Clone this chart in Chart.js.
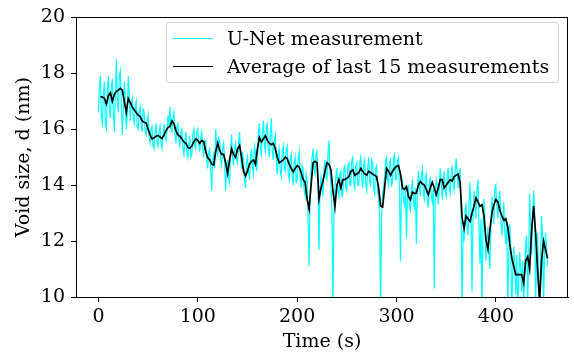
<!DOCTYPE html>
<html><head><meta charset="utf-8">
<script src="https://cdn.jsdelivr.net/npm/chart.js@4.4.1/dist/chart.umd.min.js"></script>
<style>
html,body{margin:0;padding:0;background:#fff;}
#wrap{position:relative;width:574px;height:353px;}
#legend{position:absolute;left:166px;top:22px;width:393px;height:61px;box-sizing:border-box;border:1px solid #d4d4d4;border-radius:3px;background:rgba(255,255,255,0.8);font-family:'DejaVu Serif',serif;font-size:19px;color:#000;}
.row{position:absolute;left:0;height:22px;display:flex;align-items:center;white-space:nowrap;}
.sw{display:inline-block;width:40px;height:0;margin-left:6px;margin-right:14px;}
</style></head>
<body><div id="wrap"><canvas id="c" width="574" height="353"></canvas>
<div id="legend"></div></div>
<script>
// ---- data ----
// U-Net measurement, one value per second from t = 0 s
const unetStart = 0, unetStep = 1;
const unet = [
16.6,17.6,17.9,16.4,16.2,17.3,17.7,16.1,16.0,17.4,17.9,16.8,16.4,17.5,17.8,16.6,15.9,17.2,18.5,17.0,
16.6,17.9,18.1,16.9,15.8,16.7,17.7,17.2,16.0,16.5,17.9,17.3,16.3,16.9,17.1,16.4,16.2,16.8,17.0,16.1,
16.0,16.6,16.8,16.2,15.9,16.7,16.6,15.9,15.8,16.3,16.5,15.7,15.5,16.0,16.1,15.4,15.3,15.9,16.2,15.5,
15.4,15.9,16.1,15.5,15.3,15.8,16.2,15.7,15.6,16.0,16.5,16.1,16.8,16.0,15.9,16.4,16.6,15.8,15.5,16.1,
16.2,15.6,15.4,15.9,16.0,15.3,15.1,15.6,15.9,15.2,15.0,15.5,15.7,15.0,15.1,15.8,16.0,15.4,15.3,15.9,
16.0,15.5,15.2,15.7,15.9,15.3,15.0,15.6,15.6,14.9,14.6,15.2,15.3,14.5,13.8,14.9,15.1,14.6,16.0,15.4,
15.0,15.7,15.6,14.9,14.7,15.3,15.5,14.8,13.8,14.6,14.9,14.3,14.1,15.2,15.8,15.0,14.7,15.3,15.5,14.9,
14.8,15.5,15.9,15.1,14.6,15.2,14.9,14.2,13.9,14.8,15.0,14.5,14.2,15.0,15.3,14.6,14.4,15.4,15.2,14.5,
14.8,15.9,16.2,15.3,15.1,15.9,16.3,15.4,15.2,16.1,16.2,15.3,15.0,15.8,16.4,15.2,14.9,15.6,15.8,14.8,
14.4,15.1,15.3,14.5,14.3,15.2,15.4,14.6,14.5,15.3,15.4,14.4,14.2,14.9,15.1,14.3,14.0,14.8,15.0,14.1,
14.2,15.0,15.2,14.3,13.9,14.7,14.6,13.8,13.6,14.4,14.2,12.8,11.1,13.6,14.5,15.0,15.3,14.6,14.4,15.1,
15.2,14.2,11.7,13.9,14.3,14.0,13.6,14.6,14.9,14.3,14.2,15.1,15.6,14.5,14.0,13.1,9.5,12.9,13.9,14.3,
14.6,13.8,13.6,14.4,14.5,13.6,13.7,14.6,14.7,13.9,13.8,14.7,14.8,14.0,14.0,14.9,15.0,14.1,13.9,14.7,
14.8,14.0,14.0,14.8,15.0,14.2,13.9,14.7,14.9,14.0,13.8,14.6,15.0,14.1,14.0,14.9,14.8,13.9,13.7,14.6,
14.7,13.8,13.5,12.9,9.5,12.8,13.7,13.9,14.3,14.9,15.0,14.2,14.0,14.8,14.9,14.0,14.1,15.0,15.1,14.2,
14.2,14.9,15.0,13.8,11.3,13.9,14.2,13.5,13.3,14.0,12.1,13.6,14.0,13.2,13.1,13.9,14.2,13.4,13.2,13.9,
11.9,13.8,14.5,14.0,13.6,14.4,14.6,13.7,13.5,14.3,14.4,13.5,13.2,14.0,14.3,13.6,13.4,13.9,10.3,13.6,
14.2,14.0,13.3,13.9,14.6,14.1,13.5,14.0,14.5,13.8,13.6,14.3,14.6,13.9,13.7,14.4,14.7,14.0,13.8,14.5,
14.95,14.5,13.9,14.4,14.6,13.0,9.5,12.4,12.0,13.1,13.3,12.5,12.2,13.4,14.1,13.0,10.2,12.9,13.8,13.2,
12.8,13.9,14.2,12.6,11.2,12.8,9.5,12.4,13.5,12.9,11.3,12.0,12.5,11.6,11.0,12.6,13.6,13.0,12.6,13.9,
14.0,13.2,12.8,13.5,13.8,12.9,12.2,12.6,13.4,12.3,11.9,12.7,9.5,11.5,12.6,11.8,9.5,10.9,11.8,11.2,
10.1,11.5,9.5,10.6,11.6,11.0,10.2,11.3,9.5,10.9,11.9,12.2,9.8,11.4,13.7,12.6,11.5,12.8,13.8,13.0,
9.5,11.8,12.3,10.6,9.5,11.4,12.9,12.1,9.6,11.7,12.3,11.8,11.1
];
// Average of last 15 measurements, one value every 2 s from t = 0 s
const avgStart = 0, avgStep = 2;
const average = [
null,17.17,17.15,17.1,16.9,17.2,17.3,17.0,17.25,17.35,17.4,17.46,17.4,17.0,16.6,17.1,16.95,16.8,16.7,16.6,
16.5,16.45,16.3,16.25,16.22,16.0,15.8,15.65,15.7,15.75,15.78,15.72,15.67,15.8,15.95,16.06,16.1,16.3,16.2,15.95,
15.8,15.75,15.65,15.55,15.5,15.35,15.32,15.4,15.55,15.65,15.6,15.5,15.6,15.55,15.2,14.98,14.9,14.75,14.72,15.2,
15.5,15.25,15.1,15.1,14.8,14.42,14.9,15.3,15.1,15.0,15.3,15.42,15.0,14.5,14.33,14.5,14.75,14.85,14.9,14.75,
15.3,15.7,15.55,15.65,15.77,15.6,15.5,15.45,15.5,15.3,15.0,14.8,14.85,14.9,15.0,14.95,14.75,14.6,14.48,14.6,
14.7,14.65,14.45,14.2,14.1,13.5,13.15,14.0,14.8,14.85,14.8,13.5,13.9,14.15,14.5,14.8,14.75,14.55,13.8,13.22,
14.0,14.2,13.9,14.2,14.2,14.25,14.3,14.5,14.55,14.35,14.4,14.45,14.6,14.5,14.4,14.36,14.5,14.45,14.4,14.35,
14.3,13.9,13.25,13.22,13.9,14.6,14.5,14.35,14.5,14.6,14.68,14.7,14.4,13.9,13.85,13.95,13.6,13.48,13.75,13.7,
13.72,14.0,14.13,14.05,14.0,13.85,13.66,13.9,14.1,13.9,13.66,13.9,14.2,14.2,13.9,14.0,14.1,14.19,14.15,14.3,
14.36,14.4,14.1,12.84,12.45,12.9,12.8,12.7,13.0,13.25,13.54,13.4,13.25,13.3,12.9,12.05,11.7,12.4,13.0,13.3,
13.49,13.4,13.1,12.9,12.75,12.8,12.5,11.9,11.4,11.1,10.8,10.8,10.8,10.8,10.5,11.3,11.44,11.0,12.4,13.25,
12.3,11.0,9.8,11.3,12.0,11.7,11.38
];
const xTicks = [0, 100, 200, 300, 400];
const yTicks = [10, 12, 14, 16, 18, 20];
const seriesNames = ['U-Net measurement', 'Average of last 15 measurements'];
const seriesColors = ['#00ffff', '#000000'];

const toPoints = (vals, start, step) => vals.map((v, i) => ({x: start + i * step, y: v}));

// legend (HTML)
const lg = document.getElementById('legend');
seriesNames.forEach((n, i) => {
  const r = document.createElement('div');
  r.className = 'row';
  r.style.top = (i === 0 ? 4 : 32) + 'px';
  r.innerHTML = '<span class="sw" style="border-top:1.5px solid ' + seriesColors[i] + '"></span><span>' + n + '</span>';
  lg.appendChild(r);
});

const font = {family: "'DejaVu Serif', serif", size: 19};
const frame = {
  id: 'frame',
  afterDatasetsDraw(chart) {
    const a = chart.chartArea, c = chart.ctx;
    c.save();
    c.strokeStyle = '#000'; c.lineWidth = 1;
    c.strokeRect(Math.round(a.left) + 0.5, Math.round(a.top) + 0.5,
      Math.round(a.right) - Math.round(a.left) - 1, Math.round(a.bottom) - Math.round(a.top));
    c.restore();
  }
};

new Chart(document.getElementById('c'), {
  type: 'line',
  data: {datasets: [
    {label: seriesNames[0], order: 2, data: toPoints(unet, unetStart, unetStep), borderColor: seriesColors[0], borderWidth: 1.2, pointRadius: 0, tension: 0},
    {label: seriesNames[1], order: 1, data: toPoints(average, avgStart, avgStep), borderColor: seriesColors[1], borderWidth: 1.7, pointRadius: 0, tension: 0}
  ]},
  options: {
    animation: false, responsive: false, events: [],
    layout: {padding: {left: 0, right: 6, top: 12, bottom: 0}},
    plugins: {legend: {display: false}, tooltip: {enabled: false}},
    scales: {
      x: {
        type: 'linear', min: -22.6, max: 472.6,
        afterBuildTicks: s => { s.ticks = xTicks.map(v => ({value: v})); },
        afterFit: s => { s.height = 56; },
        grid: {display: true, drawOnChartArea: false, drawTicks: true, tickLength: 5, color: '#000', lineWidth: 1},
        border: {display: true, color: '#000', width: 1},
        ticks: {color: '#000', font: font, padding: 4, maxRotation: 0},
        title: {display: true, text: 'Time (s)', color: '#000', font: font, padding: {top: 0, bottom: 0}}
      },
      y: {
        type: 'linear', min: 10, max: 20,
        afterBuildTicks: s => { s.ticks = yTicks.map(v => ({value: v})); },
        afterFit: s => { s.width = 76; },
        grid: {display: true, drawOnChartArea: false, drawTicks: true, tickLength: 5, color: '#000', lineWidth: 1},
        border: {display: true, color: '#000', width: 1},
        ticks: {color: '#000', font: font, padding: 6},
        title: {display: true, text: 'Void size, d (nm)', color: '#000', font: font, padding: {top: 13, bottom: 0}}
      }
    }
  },
  plugins: [frame]
});
</script></body></html>
